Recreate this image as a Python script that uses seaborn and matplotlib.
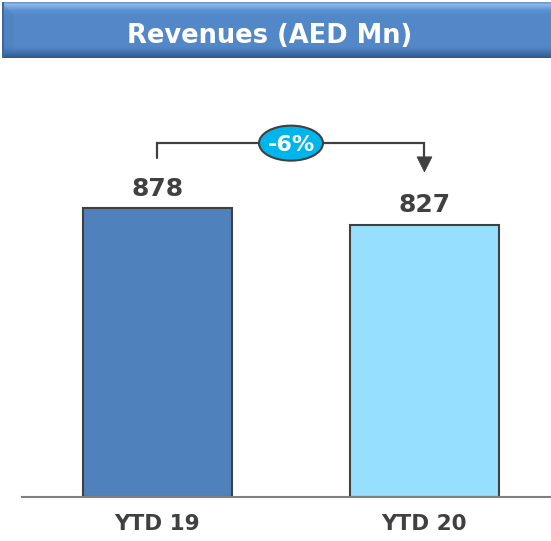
import matplotlib
matplotlib.use("Agg")
import matplotlib.pyplot as plt
import seaborn as sns
import pandas as pd
import numpy as np
from matplotlib.patches import Ellipse, Polygon

# Revenue by period (AED Mn)
periods = ["YTD 19", "YTD 20"]
revenues = [878, 827]
change_label = "-6%"
title = "Revenues (AED Mn)"

bar_colors = ["#4F81BD", "#97DFFE"]
text_dark = "#404040"

sns.set_theme(style="white")
plt.rcParams["font.family"] = ["DejaVu Sans"]

W, H = 551, 541
fig = plt.figure(figsize=(W / 100, H / 100), dpi=100)


def fx(px):
    return px / W


def fy(py):
    return 1 - py / H


# ---- Title banner with a bevelled look ----
bax = fig.add_axes([fx(2), fy(58), 1 - fx(2), 56 / H])
bh, bw = 56, 560
stops_y = [0, 2, 4, 8, 13, 44, 49, 53, 56]
stops_c = ["#6F97C6", "#8CB8EE", "#7CAAE2", "#5C92D2", "#5388C8",
           "#5388C8", "#4676B3", "#3A6398", "#2E5282"]
rgb_stops = np.array([matplotlib.colors.to_rgb(c) for c in stops_c])
rows = np.arange(bh)
grad = np.stack([np.interp(rows, stops_y, rgb_stops[:, k]) for k in range(3)], axis=1)
img = np.repeat(grad[:, None, :], bw, axis=1)
# left bevel: darker strip separated by a diagonal
for r in range(bh):
    d = min(r, bh - 1 - r, 12)
    img[r, :d] = img[r, :d] * 0.8 + np.array([0x40, 0x70, 0xAE]) / 255 * 0.2
img[:, :2] = matplotlib.colors.to_rgb("#3E6699")
bax.imshow(img, aspect="auto", extent=(0, bw, bh, 0), interpolation="bilinear")
bax.set_xlim(0, bw)
bax.set_ylim(bh, 0)
bax.axis("off")
fig.text(fx(270), fy(33), title, ha="center", va="center_baseline",
         color="white", fontsize=18.5, fontweight="bold", family="DejaVu Sans")

# ---- Bar chart ----
px_per_unit = 0.329
ax_top, ax_bottom = 60, 497
ax = fig.add_axes([fx(22), fy(ax_bottom), 1 - fx(22), (ax_bottom - ax_top) / H])

df = pd.DataFrame({"period": periods, "revenue": revenues})
sns.barplot(data=df, x="period", y="revenue", hue="period", palette=bar_colors,
            width=0.558, edgecolor=text_dark, linewidth=1.5, legend=False,
            saturation=1, ax=ax)

ax.set_ylim(0, (ax_bottom - ax_top) / px_per_unit)
ax.set_xlim(-0.5075, 1.474)
for s in ["top", "left", "right"]:
    ax.spines[s].set_visible(False)
ax.spines["bottom"].set_color("#7F7F7F")
ax.spines["bottom"].set_linewidth(1.5)
ax.set_yticks([])
ax.set_xlabel("")
ax.set_ylabel("")
ax.tick_params(axis="x", length=0, pad=12)
for lbl in ax.get_xticklabels():
    lbl.set_fontfamily("DejaVu Sans")
    lbl.set_fontweight("bold")
    lbl.set_fontsize(15.5)
    lbl.set_color(text_dark)

# value labels above each bar
for i, v in enumerate(revenues):
    ax.annotate(f"{v}", (i, v), xytext=(0, 9), textcoords="offset points",
                ha="center", va="baseline", fontsize=18, fontweight="bold",
                family="DejaVu Sans", color=text_dark)

# change bracket from first to second bar
top = max(revenues) * 1.225
left_start = revenues[0] * 1.173
tip = revenues[1] * 1.195
head_len = 15 / px_per_unit
lw = 1.6
ax.plot([0, 0, 1, 1], [left_start, top, top, tip + head_len],
        color=text_dark, lw=lw, solid_joinstyle="miter", clip_on=False)
hw = 7.5 / 267
ax.add_patch(Polygon([[1 - hw, tip + head_len], [1 + hw, tip + head_len], [1, tip]],
                     closed=True, facecolor=text_dark, edgecolor=text_dark,
                     lw=0.5, clip_on=False))
ax.add_patch(Ellipse((0.5, top), width=64 / 267, height=35 / px_per_unit,
                     facecolor="#00B4EC", edgecolor=text_dark, lw=1.5,
                     zorder=5, clip_on=False))
ax.text(0.5, top, change_label, ha="center", va="center_baseline", color="white",
        fontsize=16, fontweight="bold", family="DejaVu Sans", zorder=6)

fig.savefig("out.png", dpi=100)
